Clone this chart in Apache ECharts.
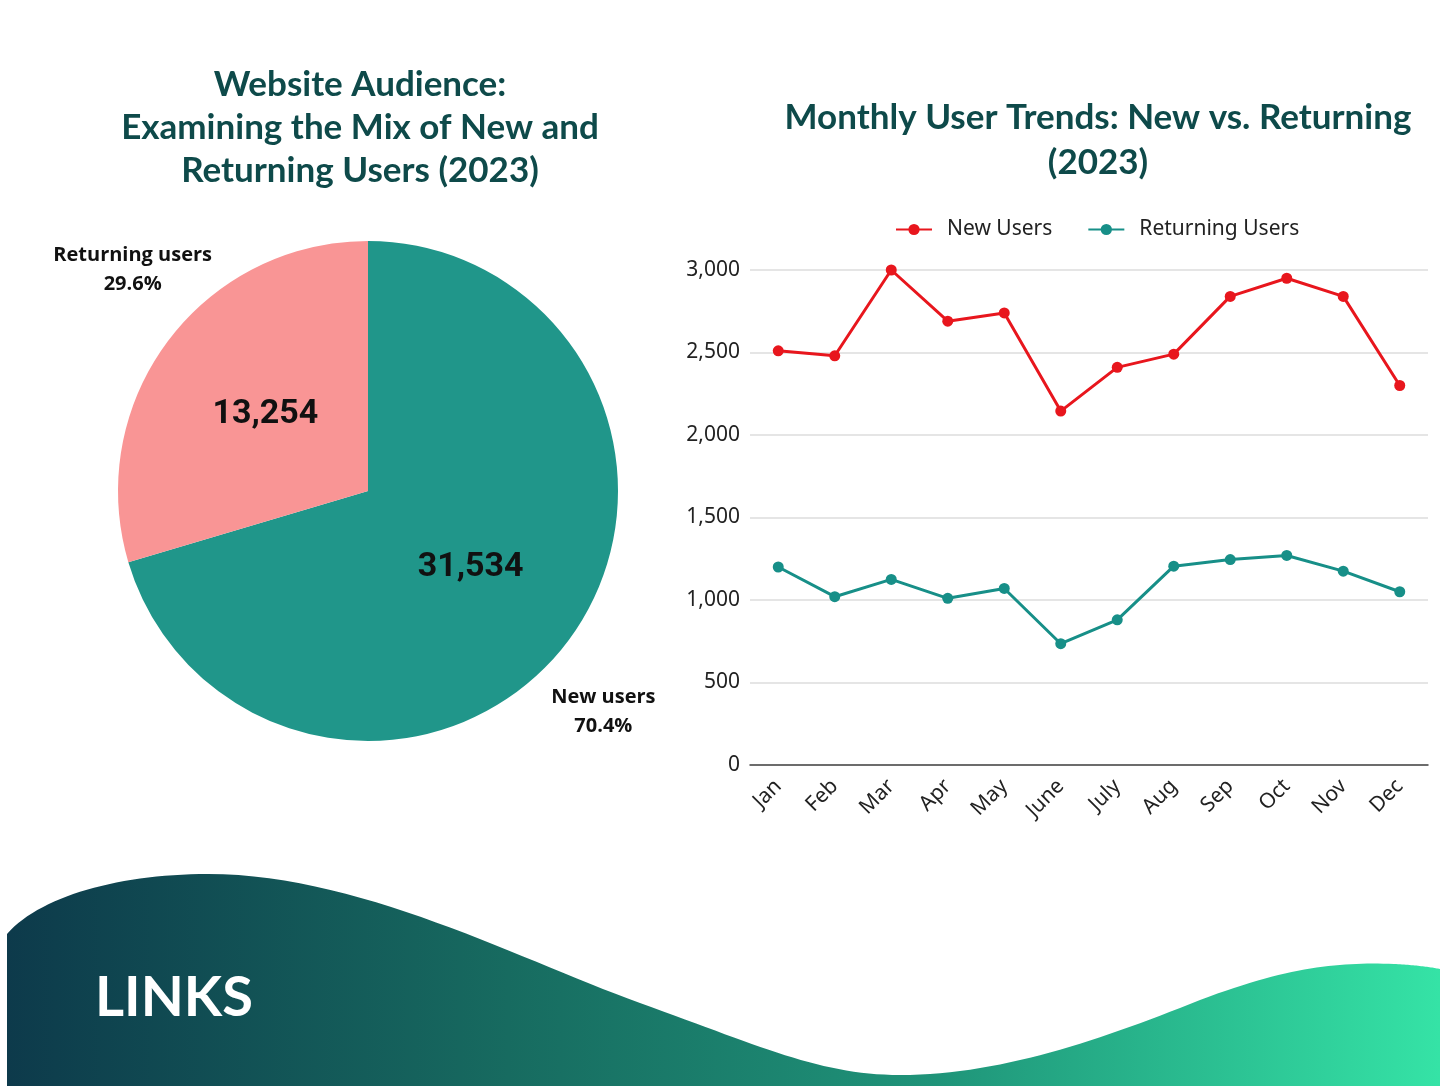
<!DOCTYPE html>
<html>
<head>
<meta charset="utf-8">
<title>Website Audience 2023</title>
<script src="https://cdn.jsdelivr.net/npm/echarts@6/dist/echarts.min.js"></script>
<style>
  html, body { margin: 0; padding: 0; background: #ffffff; }
  #main { width: 1448px; height: 1086px; }
</style>
</head>
<body>
<div id="main"></div>
<script>
// data
var months = ['Jan', 'Feb', 'Mar', 'Apr', 'May', 'June', 'July', 'Aug', 'Sep', 'Oct', 'Nov', 'Dec'];
var newUsers = [2510, 2480, 3000, 2690, 2740, 2145, 2410, 2490, 2840, 2950, 2840, 2300];
var returningUsers = [1200, 1020, 1125, 1010, 1070, 735, 880, 1205, 1245, 1270, 1175, 1050];
var pieNames = ['New users', 'Returning users'];
var pieValues = [31534, 13254];
var lineNames = ['New Users', 'Returning Users'];

var pieColors = ['#20968a', '#f99595'];
var redColor = '#e8161d';
var tealColor = '#178f88';
var titleColor = '#0e4a4a';

var pieData = pieNames.map(function (n, i) {
    return {name: n, value: pieValues[i], itemStyle: {color: pieColors[i]}};
});
// same values, no colour: used by the invisible label ring
var labelData = pieNames.map(function (n, i) {
    return {name: n, value: pieValues[i]};
});

// decorative wave at the bottom: cubic segments sampled into a polygon
function waveOutline() {
    var segs = [
        [[7, 934], [40, 896], [120, 874], [208, 874]],
        [[208, 874], [360, 874], [520, 960], [640, 1003]],
        [[640, 1003], [760, 1046], [820, 1075], [900, 1075]],
        [[900, 1075], [1000, 1075], [1100, 1040], [1200, 1000]],
        [[1200, 1000], [1290, 966], [1340, 962], [1394, 964]],
        [[1394, 964], [1415, 965], [1430, 967], [1440, 969]]
    ];
    var pts = [];
    segs.forEach(function (s) {
        for (var i = 0; i <= 30; i++) {
            var t = i / 30, u = 1 - t;
            pts.push([
                u * u * u * s[0][0] + 3 * u * u * t * s[1][0] + 3 * u * t * t * s[2][0] + t * t * t * s[3][0],
                u * u * u * s[0][1] + 3 * u * u * t * s[1][1] + 3 * u * t * t * s[2][1] + t * t * t * s[3][1]
            ]);
        }
    });
    pts.push([1440, 1086]);
    pts.push([7, 1086]);
    return pts;
}

var chart = echarts.init(document.getElementById('main'));

var option = {
    backgroundColor: '#ffffff',
    animation: false,
    title: [
        {
            text: 'Website Audience:\nExamining the Mix of New and\nReturning Users (2023)',
            left: 355,
            top: 58,
            textAlign: 'center',
            textStyle: {
                fontFamily: 'Lato',
                fontWeight: 'bold',
                fontSize: 35,
                lineHeight: 43,
                color: titleColor
            }
        },
        {
            text: 'Monthly User Trends: New vs. Returning\n(2023)',
            left: 1093,
            top: 90,
            textAlign: 'center',
            textStyle: {
                fontFamily: 'Lato',
                fontWeight: 'bold',
                fontSize: 35,
                lineHeight: 45,
                color: titleColor
            }
        }
    ],
    legend: {
        data: lineNames,
        left: 895,
        top: 219,
        padding: 0,
        itemWidth: 36,
        itemHeight: 14,
        itemGap: 35,
        textStyle: {fontFamily: 'Noto Sans', fontSize: 21, color: '#222', padding: [0, 0, 0, 10]}
    },
    grid: {
        left: 750,
        right: 20,
        top: 270,
        bottom: 321
    },
    xAxis: {
        type: 'category',
        data: months,
        boundaryGap: true,
        axisTick: {show: false},
        axisLine: {lineStyle: {color: '#444', width: 1.5}},
        axisLabel: {
            rotate: 45,
            margin: 18,
            fontFamily: 'Noto Sans',
            fontSize: 21,
            color: '#222'
        }
    },
    yAxis: {
        type: 'value',
        min: 0,
        max: 3000,
        interval: 500,
        axisLine: {show: false},
        axisTick: {show: false},
        splitLine: {lineStyle: {color: '#dddddd', width: 1.5}},
        axisLabel: {
            margin: 10,
            fontFamily: 'Noto Sans',
            fontSize: 21,
            color: '#222',
            formatter: function (v) { return echarts.format.addCommas(v); }
        }
    },
    graphic: [
        {
            type: 'polygon',
            z: -10,
            shape: {points: waveOutline()},
            style: {
                fill: {
                    type: 'linear',
                    x: 0, y: 0, x2: 1, y2: 0,
                    colorStops: [
                        {offset: 0, color: '#0d3a4b'},
                        {offset: 0.35, color: '#176b60'},
                        {offset: 0.65, color: '#1f9479'},
                        {offset: 1, color: '#35e3a6'}
                    ]
                }
            }
        },
        {
            type: 'text',
            z: 10,
            left: 95,
            top: 970,
            style: {
                text: 'LINKS',
                fill: '#ffffff',
                fontFamily: 'Lato',
                fontWeight: 'bold',
                fontSize: 56,
                shadowBlur: 8,
                shadowColor: 'rgba(0,0,0,0.35)'
            }
        }
    ],
    series: [
        {
            name: 'Audience',
            type: 'pie',
            center: [368, 491],
            radius: 250,
            startAngle: 90,
            clockwise: true,
            data: pieData,
            emphasis: {disabled: true},
            label: {
                position: 'inside',
                fontFamily: 'Roboto',
                fontWeight: 'bold',
                fontSize: 34,
                color: '#111',
                formatter: function (p) { return echarts.format.addCommas(p.value); }
            },
            labelLine: {show: false}
        },
        {
            // invisible ring that only carries the outer name / percent labels
            name: 'AudienceLabels',
            type: 'pie',
            center: [368, 491],
            radius: [300, 340],
            startAngle: 83.5,
            clockwise: true,
            silent: true,
            percentPrecision: 1,
            data: labelData,
            itemStyle: {color: 'rgba(0,0,0,0)'},
            emphasis: {disabled: true},
            label: {
                position: 'inside',
                fontFamily: 'Open Sans',
                fontWeight: 'bold',
                fontSize: 20,
                lineHeight: 29,
                color: '#111',
                align: 'center',
                formatter: '{b}\n{d}%'
            },
            labelLine: {show: false}
        },
        {
            name: lineNames[0],
            type: 'line',
            data: newUsers,
            symbol: 'circle',
            symbolSize: 11,
            color: redColor,
            lineStyle: {width: 3, color: redColor},
            itemStyle: {color: redColor}
        },
        {
            name: lineNames[1],
            type: 'line',
            data: returningUsers,
            symbol: 'circle',
            symbolSize: 11,
            color: tealColor,
            lineStyle: {width: 3, color: tealColor},
            itemStyle: {color: tealColor}
        }
    ]
};

chart.setOption(option);
</script>
</body>
</html>
